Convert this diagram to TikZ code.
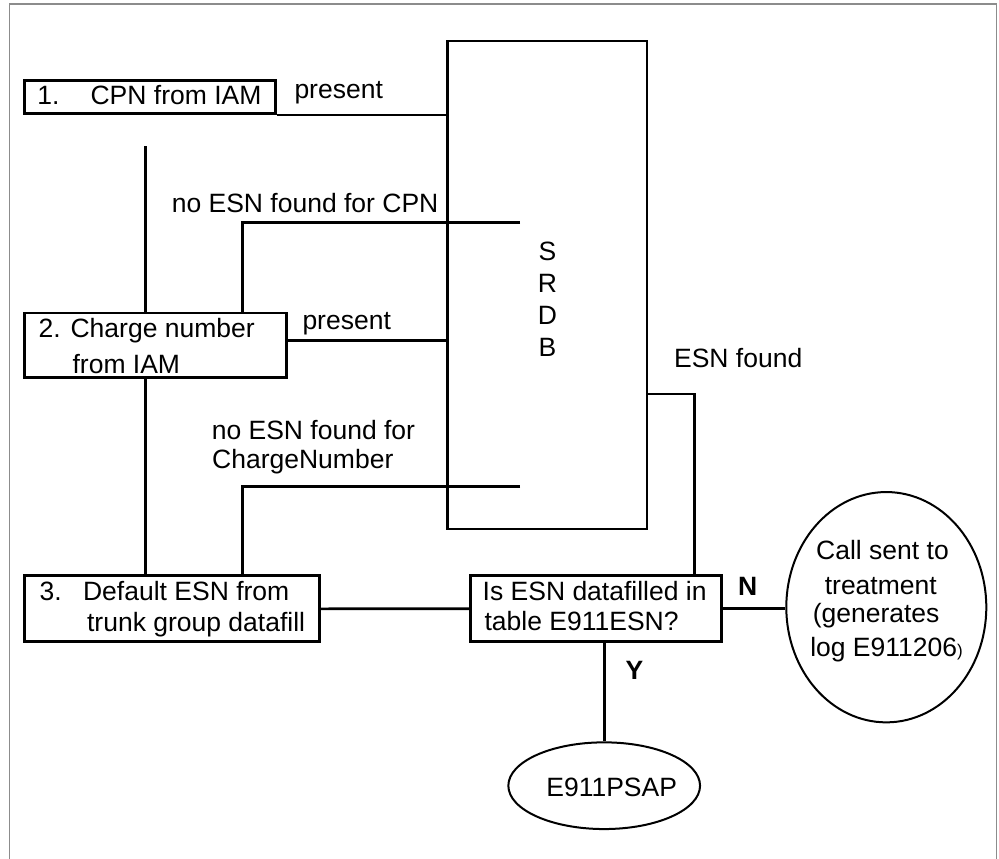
\documentclass[tikz,border=0pt]{standalone}
\usepackage{fontspec}
\setmainfont{Liberation Sans}
\usetikzlibrary{shapes.geometric}
\begin{document}
\begin{tikzpicture}[x=1pt,y=-1pt,
  box/.style={draw, line width=2.8pt, rectangle, inner sep=0pt},
  conn/.style={line width=2.6pt},
  oval/.style={draw, ellipse, line width=2pt, inner sep=0pt},
  txt/.style={anchor=base west, inner sep=0pt, font=\fontsize{26.5}{32}\selectfont},
  btxt/.style={anchor=base west, inner sep=0pt, font=\fontsize{26.5}{32}\selectfont\bfseries}]
\useasboundingbox (0,0) rectangle (999,859);
% frame
\draw[black!45, line width=1.3pt] (9.5,859) -- (9.5,4) -- (996.7,4) -- (996.7,859);

% boxes
\node[box, minimum width=251pt, minimum height=33pt] (b1) at (150.3,97) {};
\node[box, minimum width=261.4pt, minimum height=64.5pt] (b2) at (155.5,345.25) {};
\node[box, minimum width=294.4pt, minimum height=66pt] (b3) at (172,608.8) {};
\node[box, minimum width=250.7pt, minimum height=65.7pt] (dec) at (596.2,608.7) {};
\node[box, minimum width=199.5pt, minimum height=488pt] (srdb) at (547.25,285) {};
\node[oval, minimum width=200pt, minimum height=230.3pt] (treat) at (886.3,607.2) {};
\node[oval, minimum width=191.7pt, minimum height=86.7pt] (psap) at (604.2,785.7) {};

% texts
\node[txt] (t1) at (37.1,104) {1.\hspace*{31.2pt}CPN from IAM};
\node[txt] (lp1) at (294.3,99) {present};
\node[txt] (lcpn) at (171.6,212.3) {no ESN found for CPN};
\node[txt] (t2a) at (38.5,337.3) {2. Charge number};
\node[txt] (t2b) at (72.4,373.3) {from IAM};
\node[txt] (lp2) at (302.3,329) {present};
\node[txt] (lcn1) at (211.6,439.3) {no ESN found for};
\node[txt] (lcn2) at (212,468.3) {ChargeNumber};
\node[txt] (t3a) at (39.5,600.7) {3.\hspace*{21.3pt}Default ESN from};
\node[txt] (t3b) at (86.9,631.7) {trunk group datafill};
\node[txt] (tda) at (482.5,600) {Is ESN datafilled in};
\node[txt] (tdb) at (484.4,630.5) {table E911ESN?};
\node[txt] (lesn) at (673.9,367.7) {ESN found};
\node[btxt] (ln) at (737.8,595) {N};
\node[btxt] (ly) at (625.5,679.3) {Y};
\node[txt] (tpsap) at (546.2,796) {E911PSAP};
\node[txt] (tt1) at (816,559) {Call sent to};
\node[txt] (tt2) at (824.6,594) {treatment};
\node[txt] (tt3) at (812.6,622) {(generates};
\node[txt] (tt4) at (810.1,656) {log E911206{\fontsize{17}{17}\selectfont )}};
\node[anchor=north, inner sep=0pt, align=center, font=\fontsize{26.5}{32}\selectfont] (srdbt) at (547.5,241.7) {S\\R\\D\\B};

% helper coordinates
\coordinate (s1top) at (145.2,146);
\coordinate (c1) at (520,222.3);
\coordinate (xcol) at (242.2,222.3);
\coordinate (p2y) at (0,340.7);
\coordinate (c2) at (520,486.7);
\coordinate (esnx) at (694.7,394);

% connectors
\draw[conn] (b1.south east) -- (srdb.west |- b1.south east);
\draw[conn] (s1top) -- (s1top |- b2.north);
\draw[conn] (c1) -| (xcol |- b2.north);
\draw[conn] (b2.east |- p2y) -- (srdb.west |- p2y);
\draw[conn] (b2.south -| s1top) -- (b3.north -| s1top);
\draw[conn] (c2) -| (xcol |- b3.north);
\draw[conn] (b3.east) -- (dec.west);
\draw[conn] (srdb.east |- esnx) -| (dec.north -| esnx);
\draw[conn] (dec.east) -- (dec.east -| treat.west);
\draw[conn] (dec.south -| psap.north) -- (psap.north);
\end{tikzpicture}
\end{document}
